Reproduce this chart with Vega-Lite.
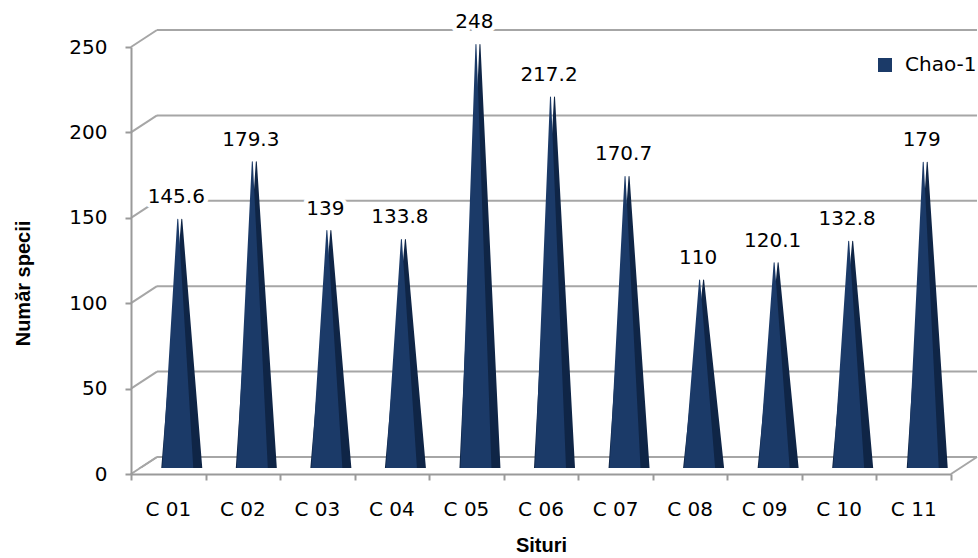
{
  "$schema": "https://vega.github.io/schema/vega-lite/v6.json",
  "autosize": {"type": "none"},
  "width": 820,
  "height": 427,
  "padding": {"left": 131, "top": 47, "right": 27, "bottom": 84},
  "background": "white",
  "config": {
    "view": {"stroke": null},
    "font": "DejaVu Sans",
    "axis": {
      "domainColor": "#9A9A9A",
      "domainWidth": 2,
      "tickColor": "#9A9A9A",
      "tickWidth": 2,
      "tickSize": 6,
      "labelColor": "#000000",
      "labelFont": "DejaVu Sans",
      "labelFontSize": 20,
      "titleFont": "Liberation Sans",
      "titleFontSize": 20,
      "titleFontWeight": "bold",
      "titleColor": "#000000",
      "grid": false
    },
    "axisY": {
      "tickCount": 6,
      "labelPadding": 18,
      "titleX": -108,
      "titleY": 236,
      "titleAngle": -90,
      "titleBaseline": "middle",
      "titleAlign": "center"
    }
  },
  "datasets": {
    "chao": [
      {"site": "C 01", "value": 145.6},
      {"site": "C 02", "value": 179.3},
      {"site": "C 03", "value": 139},
      {"site": "C 04", "value": 133.8},
      {"site": "C 05", "value": 248},
      {"site": "C 06", "value": 217.2},
      {"site": "C 07", "value": 170.7},
      {"site": "C 08", "value": 110},
      {"site": "C 09", "value": 120.1},
      {"site": "C 10", "value": 132.8},
      {"site": "C 11", "value": 179}
    ],
    "grid": [{"v": 0}, {"v": 50}, {"v": 100}, {"v": 150}, {"v": 200}, {"v": 250}]
  },
  "layer": [
    {
      "data": {"name": "grid"},
      "layer": [
        {
          "mark": {"type": "rule", "color": "#A6A6A6", "strokeWidth": 2, "xOffset": 26, "x2Offset": 26, "yOffset": -17},
          "encoding": {
            "x": {"datum": 0, "type": "quantitative", "scale": {"domain": [0, 1]}, "axis": null},
            "x2": {"datum": 1},
            "y": {"field": "v", "type": "quantitative", "scale": {"domain": [0, 250], "nice": false}, "title": "Număr specii", "axis": {"zindex": 1}}
          }
        },
        {
          "mark": {"type": "rule", "color": "#A6A6A6", "strokeWidth": 2, "x2Offset": 26, "y2Offset": -17},
          "encoding": {
            "x": {"datum": 0, "type": "quantitative", "scale": {"domain": [0, 1]}, "axis": null},
            "x2": {"datum": 0},
            "y": {"field": "v", "type": "quantitative", "title": "Număr specii"},
            "y2": {"field": "v"}
          }
        }
      ]
    },
    {
      "data": {"name": "chao"},
      "transform": [
        {"calculate": "0", "as": "base"},
        {"fold": ["base", "value"], "as": ["part", "yv"]}
      ],
      "layer": [
        {
          "mark": {"type": "trail", "color": "#0F2546", "xOffset": 13.5, "yOffset": -6},
          "encoding": {
            "x": {"field": "site", "type": "ordinal", "scale": {"type": "band", "paddingInner": 0, "paddingOuter": 0}, "axis": null},
            "y": {"field": "yv", "type": "quantitative", "title": "Număr specii"},
            "detail": {"field": "site"},
            "order": {"field": "yv", "type": "quantitative"},
            "size": {"condition": {"test": "datum.part === 'base'", "value": 41}, "value": 0}
          }
        },
        {
          "mark": {"type": "trail", "xOffset": 9.5, "yOffset": -6},
          "encoding": {
            "x": {"field": "site", "type": "ordinal", "scale": {"type": "band", "paddingInner": 0, "paddingOuter": 0}, "axis": null},
            "y": {"field": "yv", "type": "quantitative", "title": "Număr specii"},
            "detail": {"field": "site"},
            "order": {"field": "yv", "type": "quantitative"},
            "size": {"condition": {"test": "datum.part === 'base'", "value": 31}, "value": 0},
            "color": {
              "datum": "Chao-1",
              "scale": {"range": ["#1B3A68"]},
              "legend": {
                "title": null,
                "orient": "none",
                "legendX": 744,
                "legendY": 8,
                "symbolType": "square",
                "symbolSize": 196,
                "symbolFillColor": "#1B3A68",
                "symbolStrokeWidth": 0,
                "labelFont": "DejaVu Sans",
                "labelFontSize": 20,
                "labelColor": "#000000",
                "labelOffset": 10
              }
            }
          }
        }
      ]
    },
    {
      "data": {"values": [{"floor": 0}]},
      "layer": [
        {
          "mark": {"type": "rect", "color": "white", "x2Offset": 26, "yOffset": -6},
          "encoding": {
            "x": {"datum": 0, "type": "quantitative", "scale": {"domain": [0, 1]}, "axis": null},
            "x2": {"datum": 1},
            "y": {"field": "floor", "type": "quantitative", "title": "Număr specii"},
            "y2": {"datum": -15}
          }
        },
        {
          "mark": {"type": "rule", "color": "#A6A6A6", "strokeWidth": 2, "x2Offset": 26, "y2Offset": -17},
          "encoding": {
            "x": {"datum": 0, "type": "quantitative", "scale": {"domain": [0, 1]}, "axis": null},
            "x2": {"datum": 0},
            "y": {"field": "floor", "type": "quantitative", "title": "Număr specii"},
            "y2": {"field": "floor"}
          }
        },
        {
          "mark": {"type": "rule", "color": "#A6A6A6", "strokeWidth": 2, "x2Offset": 26, "y2Offset": -17},
          "encoding": {
            "x": {"datum": 1, "type": "quantitative", "scale": {"domain": [0, 1]}, "axis": null},
            "x2": {"datum": 1},
            "y": {"field": "floor", "type": "quantitative", "title": "Număr specii"},
            "y2": {"field": "floor"}
          }
        }
      ]
    },
    {
      "data": {"name": "chao"},
      "mark": {"type": "text", "dx": 8, "dy": -28, "baseline": "middle", "align": "center", "fontSize": 20, "font": "DejaVu Sans", "stroke": "white", "strokeWidth": 9, "fill": "white", "strokeJoin": "round"},
      "encoding": {
        "x": {
          "field": "site", "type": "ordinal",
          "scale": {"type": "band", "paddingInner": 0, "paddingOuter": 0},
          "axis": {"orient": "bottom", "title": null, "labels": false, "tickBand": "extent", "domain": true, "zindex": 1}
        },
        "y": {"field": "value", "type": "quantitative", "title": "Număr specii"},
        "text": {"field": "value", "type": "nominal"}
      }
    },
    {
      "data": {"name": "chao"},
      "mark": {"type": "text", "dx": 8, "dy": -28, "baseline": "middle", "align": "center", "fontSize": 20, "font": "DejaVu Sans", "fill": "#000000"},
      "encoding": {
        "x": {
          "field": "site", "type": "ordinal",
          "scale": {"type": "band", "paddingInner": 0, "paddingOuter": 0},
          "title": "Situri",
          "axis": {"orient": "bottom", "labelAngle": 0, "ticks": false, "domain": false, "labelPadding": 25, "titleX": 410, "titleY": 71, "titleBaseline": "middle", "titleAlign": "center", "zindex": 1}
        },
        "y": {"field": "value", "type": "quantitative", "title": "Număr specii"},
        "text": {"field": "value", "type": "nominal"}
      }
    }
  ],
  "resolve": {"scale": {"x": "independent"}}
}
